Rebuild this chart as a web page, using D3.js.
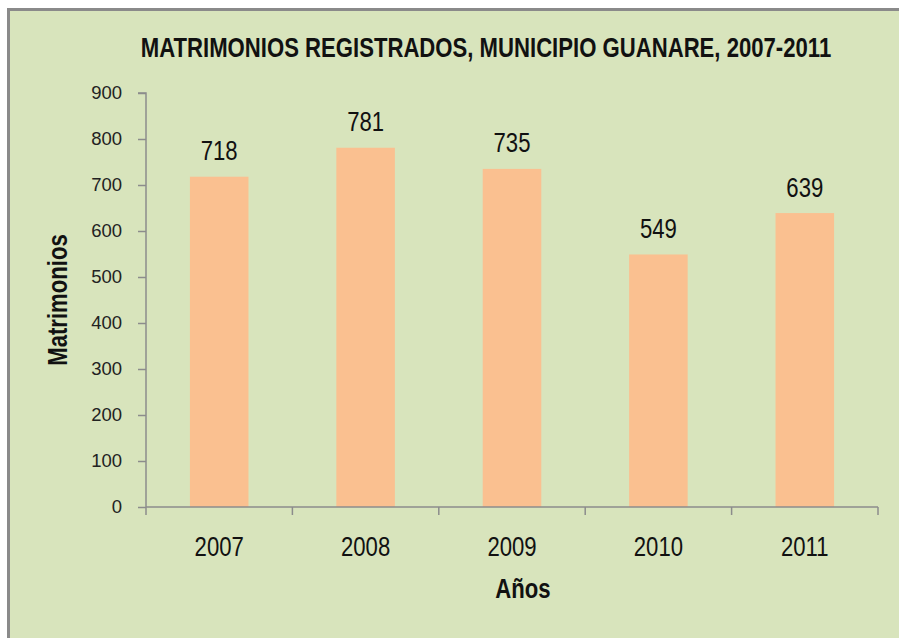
<!DOCTYPE html>
<html>
<head>
<meta charset="utf-8">
<script src="https://cdn.jsdelivr.net/npm/d3@7"></script>
<style>
  body { margin: 0; background: #fff; }
  svg { display: block; }
</style>
</head>
<body>
<div id="chart"></div>
<script>
var years = ['2007', '2008', '2009', '2010', '2011'];
var matrimonios = [718, 781, 735, 549, 639];
var yTicks = [0, 100, 200, 300, 400, 500, 600, 700, 800, 900];

var width = 899;
var height = 638;
var font = '"Liberation Sans", Arial, sans-serif';
var axisColor = '#8c8c8c';
var squeeze = 0.82; // Arial Narrow look from Liberation Sans

var svg = d3.select('#chart')
  .append('svg')
  .attr('width', width)
  .attr('height', height);

// condensed text: the glyphs are squeezed horizontally around the anchor
var narrowText = function(sel, transform, size, bold, str) {
  return sel.append('g')
    .attr('transform', transform)
    .append('text')
    .attr('transform', 'scale(' + squeeze + ',1)')
    .attr('text-anchor', 'middle')
    .attr('font-family', font)
    .attr('font-weight', bold ? 'bold' : 'normal')
    .attr('font-size', size)
    .attr('fill', '#111')
    .text(str);
};

// chart area background, frame shows only on left and top
svg.append('rect')
  .attr('x', 8).attr('y', 9)
  .attr('width', width - 8).attr('height', height - 9)
  .attr('fill', '#d8e4bc');
svg.append('path')
  .attr('d', 'M8.5,' + height + 'V9.5H' + width)
  .attr('fill', 'none')
  .attr('stroke', '#8a8a8a')
  .attr('stroke-width', 3);

var x = d3.scaleBand()
  .domain(years)
  .range([146, 878])
  .paddingInner(0.6)
  .paddingOuter(0.3);

var y = d3.scaleLinear()
  .domain([0, 900])
  .range([507, 93]);

// bars
svg.selectAll('rect.bar')
  .data(matrimonios)
  .enter()
  .append('rect')
  .attr('class', 'bar')
  .attr('x', function(d, i) { return x(years[i]); })
  .attr('y', function(d) { return y(d); })
  .attr('width', x.bandwidth())
  .attr('height', function(d) { return y(0) - y(d); })
  .attr('fill', '#fac090');

// y axis
var yAxis = svg.append('g')
  .attr('transform', 'translate(146,0)')
  .call(d3.axisLeft(y).tickValues(yTicks).tickSize(8).tickPadding(16));
yAxis.selectAll('path, line').attr('stroke', axisColor).attr('stroke-width', 1.5);
yAxis.select('.domain').attr('d', 'M-8,' + y(900) + 'H0V' + y(0));
yAxis.selectAll('text')
  .attr('font-family', font)
  .attr('font-size', 18.5)
  .attr('fill', '#222');

// x axis with ticks on category boundaries
var step = x.step();
var xAxis = svg.append('g');
xAxis.append('line')
  .attr('x1', 146).attr('x2', 878)
  .attr('y1', y(0)).attr('y2', y(0))
  .attr('stroke', axisColor).attr('stroke-width', 1.5);
xAxis.selectAll('line.tick')
  .data(d3.range(years.length + 1))
  .enter()
  .append('line')
  .attr('class', 'tick')
  .attr('x1', function(i) { return 146 + i * step; })
  .attr('x2', function(i) { return 146 + i * step; })
  .attr('y1', y(0)).attr('y2', y(0) + 8)
  .attr('stroke', axisColor).attr('stroke-width', 1.5);

years.forEach(function(yr) {
  narrowText(svg, 'translate(' + (x(yr) + x.bandwidth() / 2) + ',556)', 27, false, yr);
});

// value labels
matrimonios.forEach(function(v, i) {
  var cx = x(years[i]) + x.bandwidth() / 2;
  narrowText(svg, 'translate(' + cx + ',' + (y(v) - 16.5) + ')', 27, false, v);
});

// titles
narrowText(svg, 'translate(486,57)', 27, true,
  'MATRIMONIOS REGISTRADOS, MUNICIPIO GUANARE, 2007-2011');
narrowText(svg, 'translate(523,598)', 27, true, 'Años');
narrowText(svg, 'translate(67,300) rotate(-90)', 27, true, 'Matrimonios');
</script>
</body>
</html>
